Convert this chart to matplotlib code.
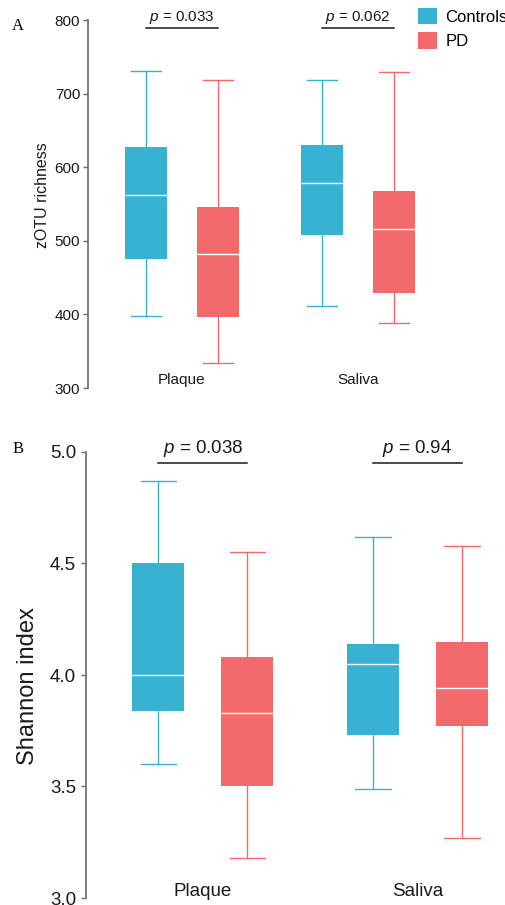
import matplotlib
matplotlib.use("Agg")
import matplotlib.pyplot as plt
from matplotlib.patches import Patch

# ── DATA ──────────────────────────────────────────────────────────────────────
sites = ["Plaque", "Saliva"]
conditions = ["Controls", "PD"]

# per site: whislo, q1, median, q3, whishi
rich_controls = [[398, 475, 562, 627, 731], [411, 508, 579, 630, 719]]
rich_pd       = [[334, 396, 482, 546, 718], [388, 429, 516, 568, 730]]
shannon_controls = [[3.60, 3.84, 4.00, 4.50, 4.87], [3.49, 3.73, 4.05, 4.14, 4.62]]
shannon_pd       = [[3.18, 3.50, 3.83, 4.08, 4.55], [3.27, 3.77, 3.94, 4.15, 4.58]]

p_rich    = ["0.033", "0.062"]
p_shannon = ["0.038", "0.94"]

rich_ticks    = [300, 400, 500, 600, 700, 800]
shannon_ticks = [3.0, 3.5, 4.0, 4.5, 5.0]

# ── STYLE ─────────────────────────────────────────────────────────────────────
BLUE  = "#38B2D3"
RED   = "#F26A6C"
SPINE = "#6b6b6b"
TXT   = "#1a1a1a"
W, H  = 506, 905

plt.rcParams["font.family"] = ["Liberation Sans", "DejaVu Sans"]
plt.rcParams["mathtext.fontset"] = "custom"
plt.rcParams["mathtext.it"] = "Liberation Sans:italic"
plt.rcParams["mathtext.rm"] = "Liberation Sans"

fig = plt.figure(figsize=(W / 100, H / 100), dpi=100)


def px_axes(l, t, r, b):
    return fig.add_axes([l / W, 1 - b / H, (r - l) / W, (b - t) / H])


def stats_of(vals):
    lo, q1, med, q3, hi = vals
    return dict(whislo=lo, q1=q1, med=med, q3=q3, whishi=hi, fliers=[])


def draw_panel(ax, ctrl, pd, pvals, ticks, ylim, offset, width, fs,
               line_y, text_y, lab, lab_fs, lab_xy, tickpad, fmt):
    for data, sign, col in [(ctrl, -1, BLUE), (pd, 1, RED)]:
        pos = [i + sign * offset for i in range(len(sites))]
        ax.bxp([stats_of(v) for v in data], positions=pos, widths=width,
               patch_artist=True, showfliers=False, manage_ticks=False,
               capwidths=width * 0.68,
               boxprops=dict(facecolor=col, edgecolor="none"),
               whiskerprops=dict(color=col, lw=1.0),
               capprops=dict(color=col, lw=1.0),
               medianprops=dict(color="white", lw=1.0))
    for i, p in enumerate(pvals):
        ax.plot([i - offset, i + offset], [line_y, line_y], color=TXT, lw=1.1,
                clip_on=False)
        ax.text(i, text_y, f"$p$ = {p}", ha="center", va="baseline",
                fontsize=fs, color=TXT, clip_on=False)

    ax.set_ylim(*ylim)
    ax.set_yticks(ticks)
    ax.set_yticklabels([fmt.format(t) for t in ticks])
    ax.set_xticks(range(len(sites)))
    ax.set_xticklabels(sites)
    for s in ["top", "right", "bottom"]:
        ax.spines[s].set_visible(False)
    ax.spines["left"].set_color(SPINE)
    ax.spines["left"].set_linewidth(1.2)
    ax.tick_params(axis="y", direction="out", length=3.6, width=1.0,
                   color=SPINE, labelsize=fs, pad=tickpad, labelcolor=TXT)
    ax.tick_params(axis="x", length=0, labelsize=fs, pad=-10.6, labelcolor=TXT)
    ax.set_ylabel(lab, fontsize=lab_fs, color=TXT)
    ax.yaxis.set_label_coords(*lab_xy)
    ax.patch.set_alpha(0)


# ── PANEL A ───────────────────────────────────────────────────────────────────
axA = px_axes(88, 20, 430, 388)
axA.set_xlim((88 - 182) / 176, (430 - 182) / 176)
draw_panel(axA, rich_controls, rich_pd, p_rich, rich_ticks, (300, 800),
           0.2045, 0.244, 11, 789, 799, "zOTU richness", 11.5,
           ((50 - 88) / 342, (388 - 195.5) / 368), 2.0, "{:.0f}")

# ── PANEL B ───────────────────────────────────────────────────────────────────
axB = px_axes(86, 452, 506, 898)
axB.set_xlim((86 - 202.75) / 214.75, (506 - 202.75) / 214.75)
draw_panel(axB, shannon_controls, shannon_pd, p_shannon, shannon_ticks,
           (3.0, 5.0), 0.207, 0.242, 13.5, 4.95, 4.996, "Shannon index", 17,
           ((39 - 86) / 420, (898 - 686) / 446), 3.6, "{:.1f}")

# ── LEGEND + LETTERS ──────────────────────────────────────────────────────────
handles = [Patch(facecolor=BLUE, edgecolor="none"),
           Patch(facecolor=RED, edgecolor="none")]
fig.legend(handles, conditions, loc="upper left",
           bbox_to_anchor=(418 / W, 1 - 8 / H), frameon=False, fontsize=12,
           handlelength=1.14, handleheight=1.14, handletextpad=0.5,
           labelspacing=0.45, borderaxespad=0, borderpad=0)

fig.text(18 / W, 1 - 25.5 / H, "A", family="Liberation Serif", fontsize=12,
         ha="center", va="center")
fig.text(18.5 / W, 1 - 449 / H, "B", family="Liberation Serif", fontsize=12,
         ha="center", va="center")

fig.savefig("out.png", dpi=100)
